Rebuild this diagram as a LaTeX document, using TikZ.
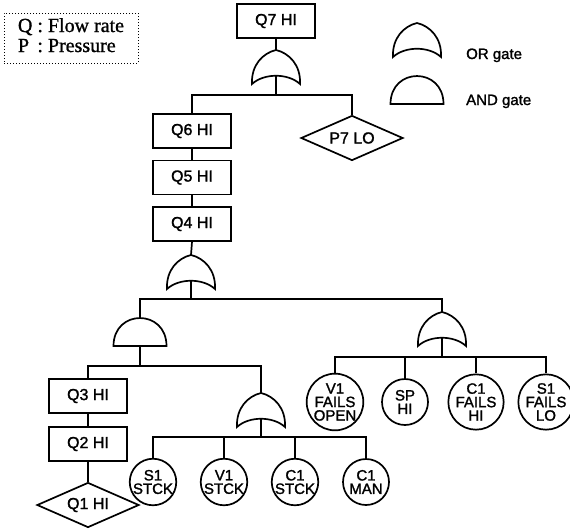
\documentclass[tikz,border=0pt]{standalone}
\usepackage{fontspec}
\setmainfont{Liberation Serif}
\setsansfont{Liberation Sans}
\newfontfamily\scanfont{Liberation Sans}[FakeBold=1.5]
\newfontfamily\legendfont{Liberation Serif}[FakeBold=1]
\usepackage{tikz}
\usetikzlibrary{shapes.geometric,positioning}

\begin{document}
\begin{tikzpicture}[x=1pt, y=-1pt, node distance=46.5pt,
  box/.style={rectangle, draw, line width=1.7pt, minimum width=78pt, minimum height=34pt, inner sep=0pt, font=\scanfont\fontsize{16}{16}\selectfont},
  cond/.style={diamond, draw, line width=1.7pt, minimum width=102pt, minimum height=45pt, inner sep=0pt, aspect=2.3, font=\scanfont\fontsize{16}{16}\selectfont},
  basic/.style={circle, draw, line width=1.7pt, minimum size=46pt, inner sep=0pt, align=center, font=\scanfont\fontsize{15}{13.5}\selectfont},
  label/.style={anchor=base west, inner sep=0pt, font=\scanfont\fontsize{15}{15}\selectfont},
  link/.style={line width=1.7pt},
  orgate/.pic={\draw[link] (-24,34) .. controls (-25,15) and (-13,3) .. (0,0) .. controls (13,3) and (25,15) .. (24,34) .. controls (12,23) and (-12,23) .. (-24,34) -- cycle;
    \coordinate (-in) at (0,0); \coordinate (-out) at (0,25.6);},
  andgate/.pic={\draw[link] (-26.5,28) .. controls (-26.5,-9.3) and (26.5,-9.3) .. (26.5,28) -- cycle;
    \coordinate (-in) at (0,0); \coordinate (-out) at (0,28);}]

\useasboundingbox (0,0) rectangle (570,531);

\node[draw, dotted, line width=1pt, minimum width=134pt, minimum height=50pt, inner sep=0pt, font=\legendfont\fontsize{20}{20}\selectfont] (legend) at (71,38)
  {\begin{tabular}{@{}l@{~:~}l@{}}Q & Flow rate\\P & Pressure\end{tabular}};
\pic (lor) at (417,23) {orgate};
\pic (land) at (417,76) {andgate};
\node[label] (orlbl) at (466,59) {OR gate};
\node[label] (andlbl) at (466,105) {AND gate};

\node[box] (q7) at (276,21) {Q7 HI};
\pic (g1) at (276,50) {orgate};
\node[box] (q6) at (192,131) {Q6 HI};
\node[box, below of=q6] (q5) {Q5 HI};
\node[box, below of=q5] (q4) {Q4 HI};
\node[cond] (p7) at (352,138) {P7 LO};
\pic (g2) at (191,255) {orgate};
\pic (g3) at (140,318) {andgate};
\pic (g5) at (442,312) {orgate};
\node[box] (q3) at (88,396) {Q3 HI};
\node[box, below of=q3, node distance=48pt] (q2) {Q2 HI};
\node[cond] (q1) at (88,505) {Q1 HI};
\pic (g4) at (261,393) {orgate};
\node[basic] (s1stck) at (153,482) {S1\\STCK};
\node[basic] (v1stck) at (224,482) {V1\\STCK};
\node[basic] (c1stck) at (295,482) {C1\\STCK};
\node[basic] (c1man) at (366,482) {C1\\MAN};
\node[basic] (v1open) at (335,402) {V1\\FAILS\\OPEN};
\node[basic] (sphi) at (405,402) {SP\\HI};
\node[basic] (c1hi) at (476,402) {C1\\FAILS\\HI};
\node[basic] (s1lo) at (546,402) {S1\\FAILS\\LO};

\coordinate (b1) at (276,95);
\coordinate (b2) at (191,299);
\coordinate (b3) at (140,366);
\coordinate (b4) at (261,437);
\coordinate (b5) at (442,357);

\draw[link] (q7.south) -- (g1-in);
\draw[link] (g1-out) -- (b1);
\draw[link] (q6.north) |- (b1);
\draw[link] (p7.north) |- (b1);
\draw[link] (q6) -- (q5);
\draw[link] (q5) -- (q4);
\draw[link] (q4.south) -- (g2-in);
\draw[link] (g2-out) -- (b2);
\draw[link] (g3-in) |- (b2);
\draw[link] (g5-in) |- (b2);
\draw[link] (g3-out) -- (b3);
\draw[link] (q3.north) |- (b3);
\draw[link] (g4-in) |- (b3);
\draw[link] (q3) -- (q2);
\draw[link] (q2.south) -- (q1.north);
\draw[link] (g4-out) -- (b4);
\draw[link] (s1stck.north) |- (b4);
\draw[link] (v1stck.north) |- (b4);
\draw[link] (c1stck.north) |- (b4);
\draw[link] (c1man.north) |- (b4);
\draw[link] (g5-out) -- (b5);
\draw[link] (v1open.north) |- (b5);
\draw[link] (sphi.north) |- (b5);
\draw[link] (c1hi.north) |- (b5);
\draw[link] (s1lo.north) |- (b5);
\end{tikzpicture}
\end{document}
